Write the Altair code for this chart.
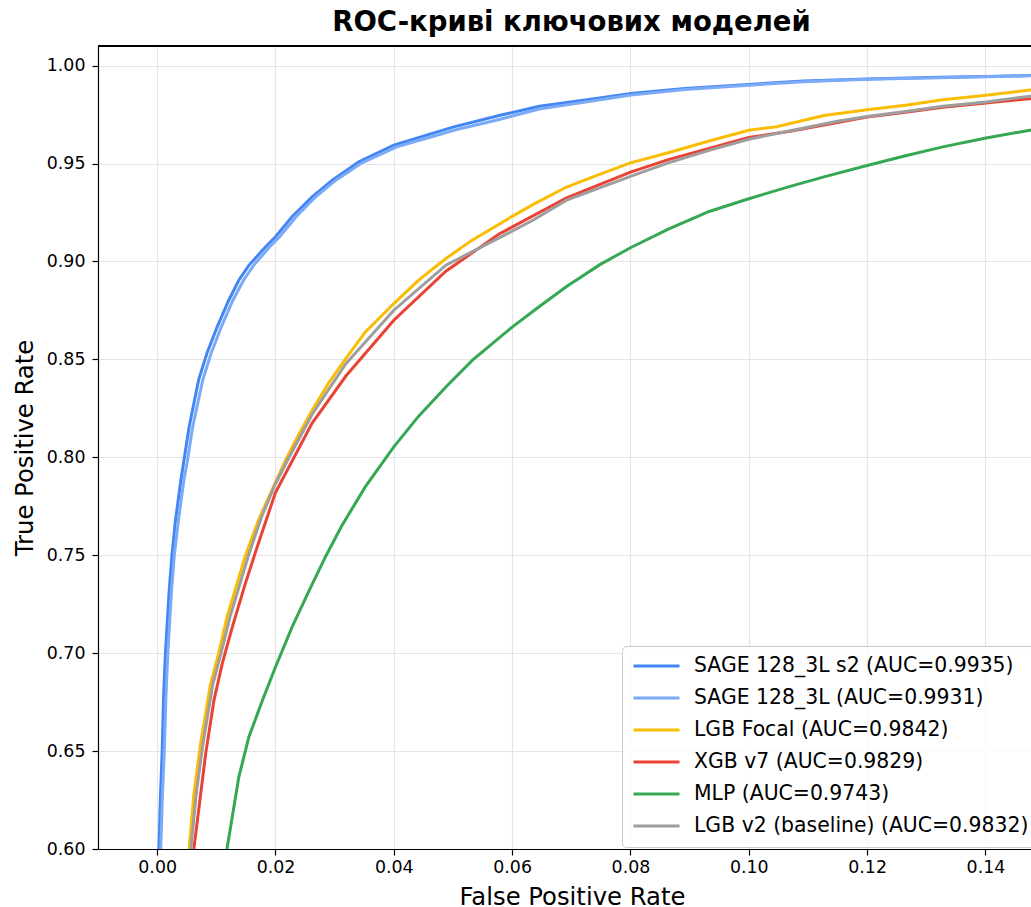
import altair as alt
import pandas as pd

# ---------------- data ----------------
models = [
    "SAGE 128_3L s2 (AUC=0.9935)",
    "SAGE 128_3L (AUC=0.9931)",
    "LGB Focal (AUC=0.9842)",
    "XGB v7 (AUC=0.9829)",
    "MLP (AUC=0.9743)",
    "LGB v2 (baseline) (AUC=0.9832)",
]
colors = ["#4285F4", "#7BAAF7", "#FBBC04", "#EA4335", "#34A853", "#9E9E9E"]

sage_s2_fpr = [0, 0.0003, 0.00057, 0.00085, 0.0011, 0.0014, 0.0020, 0.0025, 0.0031, 0.0040,
               0.0045, 0.0054, 0.0070, 0.0084, 0.0102, 0.0121, 0.0138, 0.0155, 0.0183, 0.0200,
               0.0228, 0.0262, 0.0296, 0.0341, 0.0400, 0.0500, 0.0578, 0.0646, 0.0721, 0.0801,
               0.0892, 0.1000, 0.1093, 0.1200, 0.1322, 0.1401, 0.1475, 1]
sage_s2_tpr = [0, 0.600, 0.628, 0.650, 0.679, 0.700, 0.7306, 0.750, 0.768, 0.788,
               0.798, 0.8155, 0.8394, 0.8530, 0.8670, 0.8802, 0.8904, 0.898, 0.9074, 0.9126,
               0.9228, 0.9330, 0.9415, 0.9509, 0.9594, 0.9686, 0.9745, 0.9792, 0.9823, 0.9857,
               0.9883, 0.9904, 0.9921, 0.9932, 0.9940, 0.9944, 0.9949, 1]

sage_fpr = [0, 0.0006, 0.0009, 0.0012, 0.0015, 0.0018, 0.0024, 0.0029, 0.0036, 0.0045,
            0.0051, 0.0060, 0.0077, 0.0091, 0.0109, 0.0128, 0.0146, 0.0163, 0.0190, 0.0207,
            0.0235, 0.0268, 0.0302, 0.0347, 0.0405, 0.0505, 0.0578, 0.0646, 0.0721, 0.0801,
            0.0892, 0.1000, 0.1093, 0.1200, 0.1322, 0.1401, 0.1475, 1]
sage_tpr = [0, 0.600, 0.628, 0.650, 0.679, 0.700, 0.7306, 0.750, 0.768, 0.788,
            0.798, 0.8155, 0.8394, 0.8530, 0.8670, 0.8802, 0.8904, 0.898, 0.9074, 0.9126,
            0.9228, 0.9330, 0.9415, 0.9505, 0.9585, 0.9672, 0.9725, 0.9778, 0.9813, 0.9850,
            0.9878, 0.9900, 0.9918, 0.9930, 0.9938, 0.9943, 0.9948, 1]

lgb_focal_fpr = [0, 0.0054, 0.0062, 0.0073, 0.0090, 0.0104, 0.0118, 0.0135, 0.0149, 0.0172,
                 0.0194, 0.0217, 0.0240, 0.0262, 0.0290, 0.0319, 0.0352, 0.0400, 0.0442,
                 0.0488, 0.0533, 0.0600, 0.0635, 0.0692, 0.0749, 0.0800, 0.0864, 0.0933, 0.1000,
                 0.1047, 0.1127, 0.1200, 0.1265, 0.1328, 0.1401, 0.1475, 1]
lgb_focal_tpr = [0, 0.600, 0.628, 0.653, 0.684, 0.700, 0.7184, 0.7355, 0.7496, 0.7685,
                 0.7832, 0.7985, 0.8120, 0.8240, 0.8380, 0.8505, 0.8640, 0.8785, 0.8905,
                 0.9015, 0.9110, 0.9230, 0.9290, 0.9380, 0.9446, 0.9503, 0.9555, 0.9615, 0.9670,
                 0.9688, 0.9745, 0.9774, 0.9797, 0.9826, 0.9849, 0.9875, 1]

xgb_fpr = [0, 0.0062, 0.0082, 0.0096, 0.0110, 0.0127, 0.0149, 0.0169, 0.0200, 0.0262,
           0.0319, 0.0400, 0.0488, 0.0578, 0.0692, 0.0800, 0.0864, 0.1000, 0.1070,
           0.1200, 0.1265, 0.1328, 0.1401, 0.1475, 1]
xgb_tpr = [0, 0.600, 0.6487, 0.6759, 0.6946, 0.7133, 0.7355, 0.7542, 0.7820, 0.8175,
           0.8415, 0.8700, 0.8950, 0.9140, 0.9325, 0.9456, 0.9520, 0.9633, 0.9665,
           0.9737, 0.9762, 0.9787, 0.9809, 0.9831, 1]

mlp_fpr = [0, 0.0118, 0.0138, 0.0155, 0.0178, 0.0200, 0.0228, 0.0257, 0.0285, 0.0313,
           0.0352, 0.0400, 0.0442, 0.0488, 0.0533, 0.0600, 0.0646, 0.0692, 0.0749, 0.0800,
           0.0864, 0.0933, 0.1000, 0.1064, 0.1127, 0.1200, 0.1265, 0.1328, 0.1401, 0.1475, 1]
mlp_tpr = [0, 0.600, 0.6367, 0.6572, 0.6759, 0.6929, 0.7133, 0.7320, 0.7495, 0.7655,
           0.7850, 0.8053, 0.8210, 0.8359, 0.8496, 0.8665, 0.8770, 0.8872, 0.8985, 0.9070,
           0.9165, 0.9255, 0.9320, 0.9378, 0.9432, 0.9490, 0.9540, 0.9585, 0.9630, 0.9670, 1]

lgb_v2_fpr = [0, 0.0057, 0.0066, 0.0077, 0.0094, 0.0108, 0.0123, 0.0140, 0.0154, 0.0177,
              0.0200, 0.0222, 0.0262, 0.0319, 0.0400, 0.0488, 0.0578, 0.0635, 0.0692,
              0.0749, 0.0800, 0.0864, 0.0933, 0.1000, 0.1070, 0.1150, 0.1200, 0.1265, 0.1328,
              0.1401, 0.1475, 1]
lgb_v2_tpr = [0, 0.600, 0.628, 0.653, 0.684, 0.700, 0.7184, 0.7355, 0.7496, 0.7700,
              0.7865, 0.7995, 0.8220, 0.8478, 0.8751, 0.8981, 0.9120, 0.9210, 0.9313,
              0.9377, 0.9434, 0.9503, 0.9567, 0.9624, 0.9667, 0.9716, 0.9740, 0.9766, 0.9792,
              0.9814, 0.9844, 1]

x_ticks = [0.00, 0.02, 0.04, 0.06, 0.08, 0.10, 0.12, 0.14]
y_ticks = [0.60, 0.65, 0.70, 0.75, 0.80, 0.85, 0.90, 0.95, 1.00]

series = [
    (models[0], sage_s2_fpr, sage_s2_tpr),
    (models[1], sage_fpr, sage_tpr),
    (models[2], lgb_focal_fpr, lgb_focal_tpr),
    (models[3], xgb_fpr, xgb_tpr),
    (models[4], mlp_fpr, mlp_tpr),
    (models[5], lgb_v2_fpr, lgb_v2_tpr),
]

rows = []
for name, fx, ty in series:
    for k, (a, b) in enumerate(zip(fx, ty)):
        rows.append({"model": name, "fpr": a, "tpr": b, "i": k})
df = pd.DataFrame(rows)

FONT = "DejaVu Sans"
W, H = 933, 803

x_enc = alt.X(
    "fpr:Q",
    scale=alt.Scale(domain=[-0.01, 0.1477], nice=False, zero=False),
    axis=alt.Axis(
        values=x_ticks, format=".2f", title="False Positive Rate",
        titleX=474, titleY=55, titleBaseline="alphabetic",
        labelPadding=3,
    ),
)
y_enc = alt.Y(
    "tpr:Q",
    scale=alt.Scale(domain=[0.6, 1.01], nice=False, zero=False),
    axis=alt.Axis(
        values=y_ticks, format=".2f", title="True Positive Rate",
        titleX=-66, titleY=H / 2, titleAngle=-90, titleBaseline="alphabetic",
        labelPadding=7,
    ),
)
color_enc = alt.Color(
    "model:N",
    sort=models,
    scale=alt.Scale(domain=models, range=colors),
    legend=alt.Legend(
        title=None, orient="none", legendX=524, legendY=600,
        symbolType="stroke", symbolSize=2116, symbolStrokeWidth=3,
        labelFont=FONT, labelFontSize=20.4, labelColor="#000", labelLimit=500,
        labelOffset=13, rowPadding=11, padding=10, clipHeight=20,
        strokeColor="#cccccc", fillColor="rgba(255,255,255,0.8)", cornerRadius=4,
    ),
)

base = alt.Chart(df)
layers = []
for name in models:
    layers.append(
        base.transform_filter(alt.datum.model == name)
        .mark_line(strokeWidth=3, clip=True)
        .encode(x=x_enc, y=y_enc, color=color_enc, order=alt.Order("i:Q"))
    )

frame_top = base.mark_rule(color="#000", strokeWidth=1.2).encode(
    x=alt.value(0), x2=alt.value(W), y=alt.value(0)
)

chart = (
    alt.layer(*layers, frame_top)
    .properties(
        width=W, height=H,
        autosize=alt.AutoSizeParams(type="none"),
        padding={"left": 98, "top": 46, "right": 0, "bottom": 58},
        title=alt.TitleParams(
            "ROC-криві ключових моделей", font=FONT, fontSize=27.5,
            fontWeight="bold", color="#000", anchor="middle", dx=7, dy=26,
            baseline="alphabetic", offset=13,
        ),
    )
    .configure(background="white")
    .configure_view(stroke=None)
    .configure_axis(
        labelFont=FONT, labelFontSize=17.4, labelColor="#000",
        titleFont=FONT, titleFontSize=24.3, titleFontWeight="normal", titleColor="#000",
        domainColor="#000", domainWidth=1.2, tickColor="#000", tickWidth=1.2, tickSize=6,
        gridColor="#e4e4e4", gridWidth=1.2,
    )
)

chart.save("out.html", embed_options={"renderer": "svg", "actions": False})
